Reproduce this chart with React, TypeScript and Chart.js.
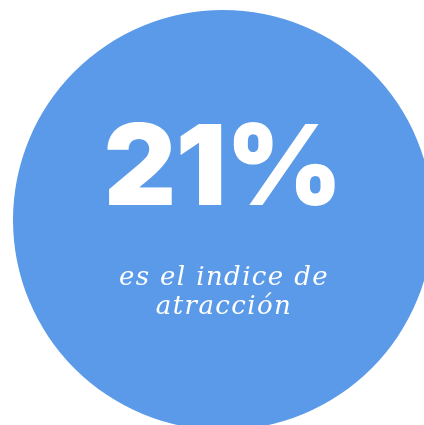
import React, { useEffect, useRef } from "react";
import { Chart, registerables } from "chart.js";

Chart.register(...registerables);

const categories: string[] = ["índice de atracción"];
const sliceValues: number[] = [100];
const headline: string[] = ["21%"];
const subtitleLines: string[] = ["es el indice de", "atracción"];

const BLUE = "rgb(90,154,232)";

const centerText = {
  id: "centerText",
  afterDraw(chart: any) {
    const ctx = chart.ctx as CanvasRenderingContext2D;
    const a = chart.chartArea;
    const cx = (a.left + a.right) / 2;
    const cy = (a.top + a.bottom) / 2;
    ctx.save();
    ctx.fillStyle = "#ffffff";
    ctx.textAlign = "center";
    ctx.textBaseline = "alphabetic";
    ctx.font = "900 112px Inter";
    (ctx as any).letterSpacing = "-0.5px";
    ctx.fillText(headline[0], cx, cy - 15);
    ctx.font = "italic 26px 'DejaVu Serif'";
    (ctx as any).letterSpacing = "1.4px";
    ctx.fillText(subtitleLines[0], cx + 1, cy + 65);
    ctx.fillText(subtitleLines[1], cx + 1, cy + 94);
    ctx.restore();
  },
};

export default function App() {
  const ref = useRef<HTMLCanvasElement | null>(null);
  useEffect(() => {
    if (!ref.current) return;
    const chart = new Chart(ref.current, {
      type: "pie",
      data: {
        labels: categories,
        datasets: [
          {
            data: sliceValues,
            backgroundColor: [BLUE],
            borderWidth: 0,
          },
        ],
      },
      options: {
        responsive: false,
        animation: false,
        layout: { padding: 0 },
        plugins: {
          legend: { display: false },
          tooltip: { enabled: false },
          title: { display: false },
        },
      },
      plugins: [centerText],
    });
    return () => chart.destroy();
  }, []);
  return (
    <div
      style={{
        position: "fixed",
        left: 0,
        top: 0,
        width: 424,
        height: 425,
        overflow: "hidden",
        background: "#ffffff",
      }}
    >
      <canvas
        ref={ref}
        width={420}
        height={420}
        style={{ position: "absolute", left: 13, top: 10, width: 420, height: 420 }}
      />
    </div>
  );
}
